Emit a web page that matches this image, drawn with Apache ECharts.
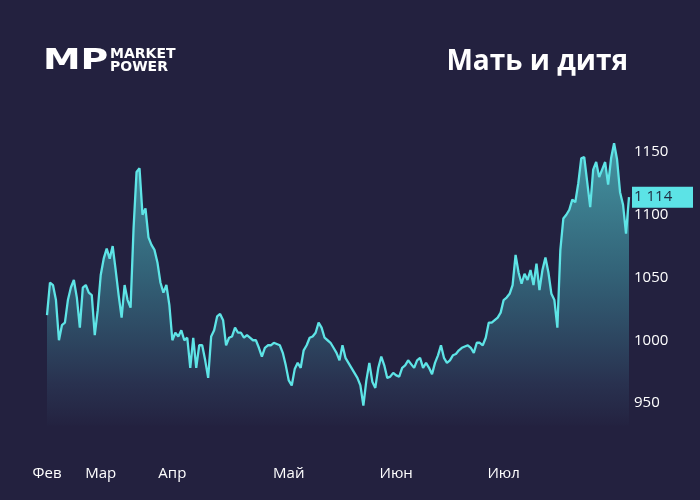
<!DOCTYPE html>
<html>
<head>
<meta charset="utf-8">
<script src="https://cdn.jsdelivr.net/npm/echarts@6/dist/echarts.min.js"></script>
<style>
html,body{margin:0;padding:0;background:#23213f;}
#c{width:700px;height:500px;}
</style>
</head>
<body>
<div id="c"></div>
<script>
const title = 'Мать и дитя';
const monthLabels = ['Фев','Мар','Апр','Май','Июн','Июл'];
const monthStarts = [0, 18, 42, 81, 117, 153];
const yTicks = [950, 1000, 1050, 1100, 1150];
const prices = [
1020,1046,1044,1032,1000,1012,1014,1032,1042,1048,
1034,1010,1042,1044,1038,1036,1004,1024,1052,1065,
1073,1065,1075,1056,1036,1018,1044,1032,1026,1089,
1134,1137,1100,1105,1082,1076,1072,1062,1046,1038,
1044,1028,1000,1006,1003,1008,1000,1002,978,1002,
978,996,996,984,970,1003,1008,1019,1021,1016,
996,1002,1003,1010,1006,1006,1002,1004,1002,1000,
1000,994,987,994,996,996,998,997,996,990,
980,968,964,977,982,978,992,996,1002,1003,
1006,1014,1010,1002,1000,998,994,990,984,996,
986,982,978,974,970,964,948,968,982,967,
962,978,987,980,970,971,974,972,971,978,
980,984,981,978,984,986,978,982,978,973,
982,988,996,986,982,984,988,989,992,994,
995,996,994,990,998,998,996,1002,1014,1014,
1016,1018,1022,1032,1034,1037,1044,1068,1054,1045,
1053,1048,1056,1044,1061,1040,1056,1066,1054,1037,
1032,1010,1072,1097,1100,1104,1112,1110,1125,1145,
1146,1126,1106,1136,1142,1130,1136,1142,1124,1145,
1157,1144,1118,1108,1085,1114
];
const categories = prices.map((_, i) => String(i));
const lastValue = prices[prices.length - 1];

const chart = echarts.init(document.getElementById('c'), null, {renderer: 'canvas'});
const labelFont = '"Open Sans", "Noto Sans", sans-serif';

chart.setOption({
  backgroundColor: '#23213f',
  animation: false,
  grid: {left: 47, right: 71, top: 89.25, bottom: 34.25, containLabel: false},
  xAxis: {
    type: 'category',
    data: categories,
    boundaryGap: false,
    axisLine: {show: false},
    axisTick: {show: false},
    splitLine: {show: false},
    axisLabel: {
      color: '#ffffff',
      fontSize: 15,
      fontFamily: labelFont,
      margin: 0,
      interval: (idx) => monthStarts.indexOf(idx) >= 0,
      formatter: (v, idx) => {
        const k = monthStarts.indexOf(idx);
        return k >= 0 ? monthLabels[k] : '';
      }
    }
  },
  yAxis: {
    type: 'value',
    position: 'right',
    min: 900,
    max: 1200,
    interval: 50,
    axisLine: {show: false},
    axisTick: {show: false},
    splitLine: {show: false},
    axisLabel: {
      color: '#ffffff',
      fontSize: 15,
      fontFamily: labelFont,
      margin: 5,
      formatter: (v) => yTicks.indexOf(v) >= 0 ? String(v) : ''
    }
  },
  series: [{
    type: 'line',
    data: prices,
    showSymbol: false,
    symbol: 'none',
    lineStyle: {color: '#5ee4e6', width: 2.3},
    areaStyle: {
      origin: 932,
      color: {
        type: 'linear', x: 0, y: 140, x2: 0, y2: 428, global: true,
        colorStops: [
          {offset: 0, color: 'rgba(86,212,215,0.95)'},
          {offset: 0.45, color: 'rgba(62,145,160,0.85)'},
          {offset: 0.85, color: 'rgba(44,58,88,0.9)'},
          {offset: 1, color: 'rgba(35,33,63,1)'}
        ]
      }
    }
  }]
});

const pt = chart.convertToPixel({seriesIndex: 0}, [prices.length - 1, lastValue]);
const tagText = String(lastValue).replace(/\B(?=(\d{3})+(?!\d))/g, ' ');

chart.setOption({
  graphic: [
    {type: 'rect', shape: {x: 632, y: pt[1] - 10.5, width: 61, height: 21}, style: {fill: '#5ce3e6'}, z: 100},
    {type: 'text', x: 634, y: pt[1], style: {text: tagText, fill: '#1f2a3f', font: '15px ' + labelFont, verticalAlign: 'middle', align: 'left'}, z: 101},
    {type: 'text', x: 628, y: 62, style: {text: title, fill: '#ffffff', font: 'bold 28px "Open Sans", sans-serif', align: 'right', verticalAlign: 'middle'}, z: 100},
    {type: 'text', x: 43, y: 62, scaleX: 1.35, style: {text: 'MP', fill: '#ffffff', font: 'bold 28px "DejaVu Sans", sans-serif', align: 'left', verticalAlign: 'middle'}, z: 100},
    {type: 'text', x: 110, y: 54, style: {text: 'MARKET', fill: '#ffffff', font: 'bold 14px "DejaVu Sans", sans-serif', align: 'left', verticalAlign: 'middle'}, z: 100},
    {type: 'text', x: 110, y: 67, style: {text: 'POWER', fill: '#ffffff', font: 'bold 14px "DejaVu Sans", sans-serif', align: 'left', verticalAlign: 'middle'}, z: 100}
  ]
});
</script>
</body>
</html>
